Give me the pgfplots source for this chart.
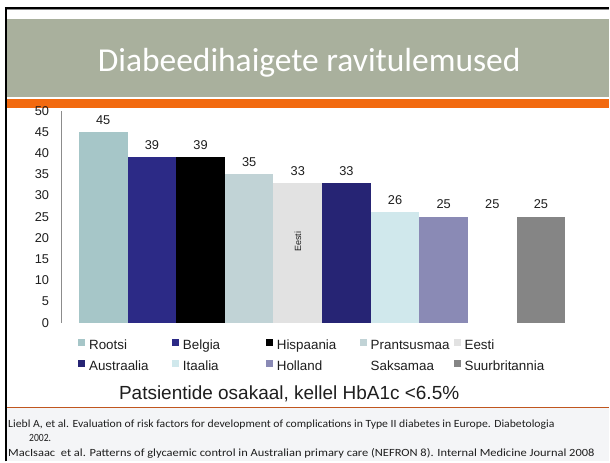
\documentclass[border=0pt]{standalone}
\usepackage{pgfplots}
\pgfplotsset{compat=1.18}
\usepackage{graphicx}
\usepackage{fontspec}
\setmainfont{Liberation Sans}
\newfontfamily\calibri{Carlito}
\definecolor{cRootsi}{HTML}{A6C6C8}
\definecolor{cBelgia}{HTML}{2C2A86}
\definecolor{cHisp}{HTML}{000000}
\definecolor{cPrant}{HTML}{C1D3D6}
\definecolor{cEesti}{HTML}{E2E2E2}
\definecolor{cAustr}{HTML}{262474}
\definecolor{cItaal}{HTML}{D0E8EC}
\definecolor{cHoll}{HTML}{8A8AB5}
\definecolor{cSaks}{HTML}{FFFFFF}
\definecolor{cSuur}{HTML}{858585}
\definecolor{titlegreen}{HTML}{A9B09D}
\definecolor{orangebar}{HTML}{F26A0F}
\definecolor{footline}{HTML}{C0561E}
\definecolor{footgray}{HTML}{F4F5F7}
\definecolor{axisgray}{HTML}{8C8C8C}
\definecolor{textdark}{HTML}{1E1E1E}
\newcommand\LE[1]{\addlegendentry{\makebox[83pt][l]{#1}}}
\pgfplotsset{mybar/.style={fill=#1, draw=none,
  legend image code/.code={\fill[fill=#1] (0pt,0.3pt) rectangle (7pt,7.3pt);}}}
\begin{document}
\begin{tikzpicture}[x=1pt,y=1pt]
\fill[white] (0,0) rectangle (610,462);
\fill[footgray] (7,0) rectangle (610,54);
\draw[footline, line width=1.5pt] (7,54) -- (610,54);
\fill[titlegreen] (7,365) rectangle (610,443);
\fill[orangebar] (7,354) rectangle (610,363);
\draw[black, line width=1.5pt] (5,453.75) -- (610,453.75);
\draw[black!45, line width=0.8pt] (7,452.6) -- (610,452.6);
\draw[black, line width=2.3pt] (6.1,0) -- (6.1,454.5);
\node[anchor=base, text=white, inner sep=0pt, font=\calibri\fontsize{33.5}{40}\selectfont] at (309.5,390) {Diabeedihaigete ravitulemused};
\begin{scope}[every node/.style={anchor=base west, inner sep=0pt, text=textdark, font=\calibri\fontsize{11}{13}\selectfont}]
\node at (8,34) {\resizebox{547pt}{\height}{Liebl A, et al. Evaluation of risk factors for development of complications in Type II diabetes in Europe. Diabetologia}};
\node at (29,20) {\resizebox{22pt}{\height}{2002.}};
\node at (8,5) {\resizebox{587pt}{\height}{MacIsaac~ et al. Patterns of glycaemic control in Australian primary care (NEFRON 8). Internal Medicine Journal 2008}};
\end{scope}
\begin{axis}[
  at={(61pt,139pt)}, anchor=south west,
  scale only axis, width=523pt, height=212pt,
  xmin=-1, xmax=1, ymin=0, ymax=50,
  ytick={0,5,...,50}, xtick=\empty,
  axis x line=none, axis y line*=left,
  y axis line style={draw=axisgray, line width=0.8pt, -},
  major tick length=0pt,
  /pgf/number format/assume math mode=true,
  yticklabel style={font=\fontsize{12.8}{14}\selectfont, text=textdark, inner sep=0pt, xshift=-11.7pt},
  ybar=0pt, bar width=48.7pt,
  nodes near coords,
  every node near coord/.append style={font=\fontsize{12.8}{14}\selectfont, text=textdark, inner sep=0pt, yshift=7.5pt, anchor=south},
  legend columns=5,
  legend style={draw=none, fill=none, at={(axis description cs:0.0325,-0.0774)}, anchor=north west, inner sep=0pt,
    font=\fontsize{13.4}{15}\selectfont, text=textdark,
    /tikz/every odd column/.append style={column sep=4pt},
    /tikz/every even column/.append style={column sep=0pt},
    row sep=7.4pt, nodes={inner sep=0pt, text height=9.6pt, text depth=3pt}},
  clip=false,
]
\addplot[mybar=cRootsi] coordinates {(0,45)}; \LE{Rootsi}
\addplot[mybar=cBelgia] coordinates {(0,39)}; \LE{Belgia}
\addplot[mybar=cHisp] coordinates {(0,39)}; \LE{Hispaania}
\addplot[mybar=cPrant] coordinates {(0,35)}; \LE{Prantsusmaa}
\addplot[mybar=cEesti] coordinates {(0,33)}; \LE{Eesti}
\addplot[mybar=cAustr] coordinates {(0,33)}; \LE{Austraalia}
\addplot[mybar=cItaal] coordinates {(0,26)}; \LE{Itaalia}
\addplot[mybar=cHoll] coordinates {(0,25)}; \LE{Holland}
\addplot[mybar=cSaks] coordinates {(0,25)}; \LE{Saksamaa}
\addplot[mybar=cSuur] coordinates {(0,25)}; \LE{Suurbritannia}
\node[rotate=90, inner sep=0pt, text=textdark, font=\fontsize{9}{10}\selectfont] at (axis cs:-0.0931,19.1) {Eesti};
\node[anchor=base, inner sep=0pt, text=textdark, font=\fontsize{19}{22}\selectfont] at (axis description cs:0.4369,-0.3632) {Patsientide osakaal, kellel HbA1c <6.5\%};
\end{axis}
\end{tikzpicture}
\end{document}
